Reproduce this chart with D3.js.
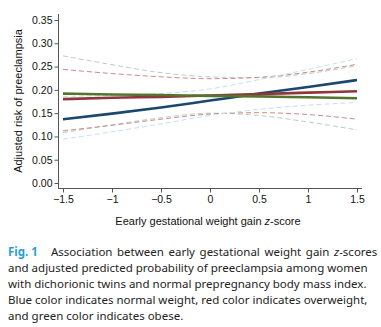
<!DOCTYPE html>
<html>
<head>
<meta charset="utf-8">
<script src="https://cdn.jsdelivr.net/npm/d3@7"></script>
<style>
  body { margin: 0; background: #fff; }
  svg { display: block; }
</style>
</head>
<body>
<svg id="chart" width="381" height="327"></svg>
<script>
// z-score points the curves were read at
var zs = [-1.5, -1, -0.5, 0, 0.5, 1, 1.5];

// normal weight (blue)
var blueFit = [0.137, 0.149, 0.162, 0.177, 0.192, 0.206, 0.221];
var blueLo  = [0.094, 0.110, 0.127, 0.145, 0.158, 0.167, 0.173];
var blueHi  = [0.186, 0.188, 0.192, 0.202, 0.222, 0.244, 0.267];

// overweight (red)
var redFit = [0.180, 0.183, 0.185, 0.188, 0.191, 0.194, 0.197];
var redLo  = [0.112, 0.124, 0.137, 0.148, 0.151, 0.147, 0.137];
var redHi  = [0.244, 0.235, 0.228, 0.224, 0.227, 0.238, 0.255];

// obese (green)
var greenFit = [0.192, 0.190, 0.189, 0.187, 0.186, 0.184, 0.182];
var greenLo  = [0.108, 0.125, 0.140, 0.150, 0.145, 0.131, 0.114];
var greenHi  = [0.273, 0.254, 0.237, 0.228, 0.226, 0.235, 0.252];

var yTicks = [0, 0.05, 0.1, 0.15, 0.2, 0.25, 0.3, 0.35];
var xTicks = [-1.5, -1, -0.5, 0, 0.5, 1, 1.5];

var svg = d3.select("#chart");

var x = d3.scaleLinear().domain([-1.5, 1.5]).range([63, 357]);
var y = d3.scaleLinear().domain([0, 0.35]).range([183, 20]);

var axisCol = "#555";
var tickFont = "Liberation Sans, Arial, sans-serif";

// axis lines
svg.append("line")
  .attr("x1", 58.5).attr("x2", 58.5).attr("y1", 14).attr("y2", 188.5)
  .attr("stroke", axisCol).attr("stroke-width", 1);
svg.append("line")
  .attr("x1", 58).attr("x2", 362).attr("y1", 188.5).attr("y2", 188.5)
  .attr("stroke", axisCol).attr("stroke-width", 1);

// y ticks
var yg = svg.append("g").attr("transform", "translate(58.5,0)");
yg.call(d3.axisLeft(y).tickValues(yTicks).tickSize(4).tickPadding(2)
    .tickFormat(d3.format(".2f")));
yg.select(".domain").remove();
yg.selectAll(".tick line").attr("stroke", axisCol);
yg.selectAll(".tick text").attr("font-family", tickFont).attr("font-size", 10.5).attr("fill", "#111");

// x ticks
var xg = svg.append("g").attr("transform", "translate(0,188.5)");
xg.call(d3.axisBottom(x).tickValues(xTicks).tickSize(4).tickPadding(3)
    .tickFormat(function(d){ return d3.format("")(d); }));
xg.select(".domain").remove();
xg.selectAll(".tick line").attr("stroke", axisCol);
xg.selectAll(".tick text").attr("font-family", tickFont).attr("font-size", 10.5).attr("fill", "#111");

// axis titles
svg.append("text")
  .attr("transform", "translate(22,101) rotate(-90)")
  .attr("text-anchor", "middle")
  .attr("font-family", tickFont).attr("font-size", 11).attr("fill", "#111")
  .text("Adjusted risk of preeclampsia");

var xt = svg.append("text")
  .attr("x", 208).attr("y", 225)
  .attr("text-anchor", "middle")
  .attr("font-family", tickFont).attr("font-size", 11).attr("fill", "#111");
xt.append("tspan").text("Eearly gestational weight gain ");
xt.append("tspan").attr("font-style", "italic").text("z");
xt.append("tspan").text("-score");

// curves
var line = d3.line()
  .x(function(d){ return x(d[0]); })
  .y(function(d){ return y(d[1]); })
  .curve(d3.curveMonotoneX);

function drawCurve(vals, col, w, dash) {
  var pts = zs.map(function(z, i){ return [z, vals[i]]; });
  var p = svg.append("path")
    .datum(pts)
    .attr("d", line)
    .attr("fill", "none")
    .attr("stroke", col)
    .attr("stroke-width", w);
  if (dash) p.attr("stroke-dasharray", dash);
}

var ltBlue = "#bfe3ee", ltRed = "#cf8a8a", ltGreen = "#b7cec3";
drawCurve(greenHi, ltGreen, 1, "5,3");
drawCurve(greenLo, ltGreen, 1, "5,3");
drawCurve(redHi, ltRed, 1, "5,3");
drawCurve(redLo, ltRed, 1, "5,3");
drawCurve(blueHi, ltBlue, 1, "5,3");
drawCurve(blueLo, ltBlue, 1, "5,3");

drawCurve(blueFit, "#1a476f", 2.6);
drawCurve(redFit, "#90353b", 2.6);
drawCurve(greenFit, "#55752f", 2.6);

// caption
var capFont = "Noto Sans, Open Sans, sans-serif";
var cap = svg.append("g")
  .attr("font-family", capFont).attr("font-size", 11.5).attr("fill", "#222");

cap.append("text").attr("x", 8).attr("y", 256)
  .attr("font-weight", "bold").attr("fill", "#2a9fd6").text("Fig. 1");
var l1 = cap.append("text").attr("x", 51).attr("y", 256)
  .style("word-spacing", "1.6px");
l1.append("tspan").text("Association between early gestational weight gain ");
l1.append("tspan").attr("font-style", "italic").text("z");
l1.append("tspan").text("-scores");

var capLines = [
  "and adjusted predicted probability of preeclampsia among women",
  "with dichorionic twins and normal prepregnancy body mass index.",
  "Blue color indicates normal weight, red color indicates overweight,",
  "and green color indicates obese."
];
cap.selectAll("text.cl")
  .data(capLines)
  .enter()
  .append("text")
  .attr("class", "cl")
  .attr("x", 8)
  .attr("y", function(d, i){ return 272 + i * 16; })
  .text(function(d){ return d; });
</script>
</body>
</html>
